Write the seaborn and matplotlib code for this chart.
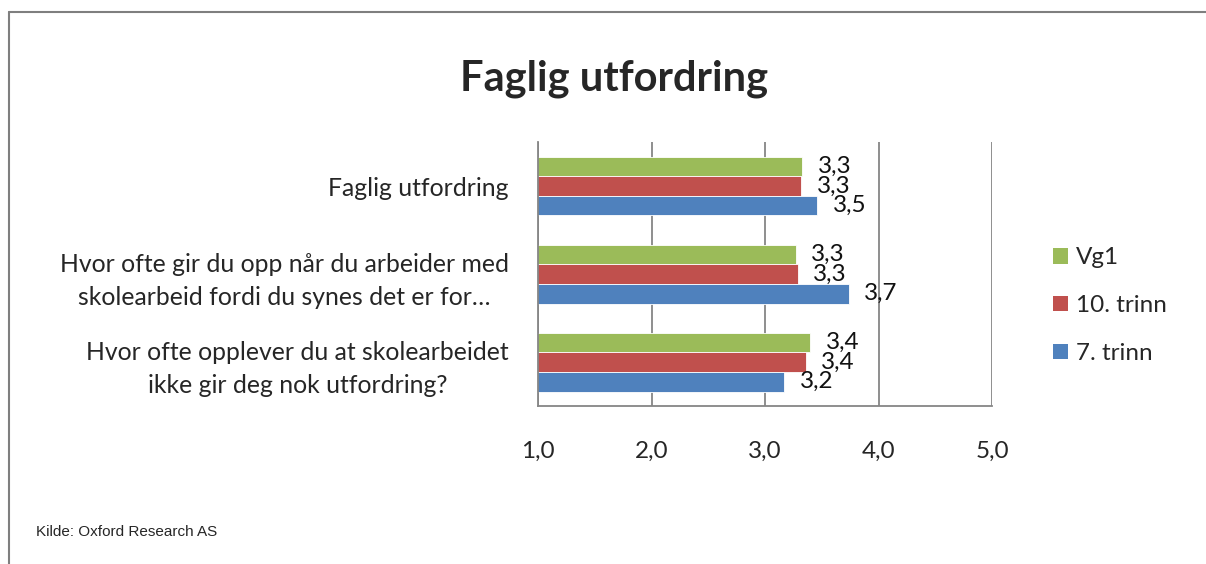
"""
Faglig utfordring - horizontal grouped bar chart.
"""

import pandas as pd
import matplotlib.pyplot as plt
from matplotlib.lines import Line2D
from matplotlib.patches import Patch
import seaborn as sns

# Data
categories = [
    "Faglig utfordring",
    "Hvor ofte gir du opp når du arbeider med\nskolearbeid fordi du synes det er for…",
    "Hvor ofte opplever du at skolearbeidet\nikke gir deg nok utfordring?",
]
groups = ["Vg1", "10. trinn", "7. trinn"]
vg1 = [3.33, 3.27, 3.40]
trinn10 = [3.32, 3.29, 3.36]
trinn7 = [3.46, 3.74, 3.17]
x_ticks = [1.0, 2.0, 3.0, 4.0, 5.0]

colors = {"Vg1": "#9BBB59", "10. trinn": "#C0504D", "7. trinn": "#4F81BD"}

df = pd.DataFrame({
    "Spørsmål": categories * 3,
    "Trinn": [g for g in groups for _ in categories],
    "Snitt": vg1 + trinn10 + trinn7,
})

sns.set_theme(style="white")
plt.rcParams["font.family"] = ["Lato", "DejaVu Sans"]

fig = plt.figure(figsize=(12.06, 5.64), dpi=100)
ax = fig.add_axes([0.4461, 0.2801, 0.3765, 0.4681])

sns.barplot(
    data=df, y="Spørsmål", x="Snitt", hue="Trinn",
    order=categories, hue_order=groups, palette=colors,
    orient="h", width=0.67, saturation=1, edgecolor="white",
    linewidth=0.6, legend=False, ax=ax,
)

# data labels with comma decimals
for container in ax.containers:
    labels = [f"{v:.1f}".replace(".", ",") for v in container.datavalues]
    ax.bar_label(container, labels=labels, padding=11, fontsize=17.5,
                 color="#111111")

ax.set_xlim(1.0, 5.0)
ax.set_ylim(2.5, -0.5)
ax.set_xticks(x_ticks)
ax.set_xticklabels([f"{t:.1f}".replace(".", ",") for t in x_ticks])
ax.xaxis.grid(True, color="#868686", linewidth=1.3)
ax.set_axisbelow(True)
ax.set_xlabel("")
ax.set_ylabel("")
ax.tick_params(axis="x", labelsize=17.5, pad=25, length=0)
ax.tick_params(axis="y", labelsize=17.8, pad=21, length=0)
for lbl in ax.get_yticklabels():
    lbl.set_multialignment("center")
    lbl.set_linespacing(1.55)
for side in ["top", "right"]:
    ax.spines[side].set_visible(False)
for side in ["left", "bottom"]:
    ax.spines[side].set_color("#868686")
    ax.spines[side].set_linewidth(1.3)

handles = [Patch(facecolor=colors[g], edgecolor="none") for g in groups]
fig.legend(
    handles, groups, loc="center left", bbox_to_anchor=(0.855, 0.458),
    frameon=False, fontsize=17.5, handlelength=0.6, handleheight=0.6,
    handletextpad=0.35, labelspacing=1.1,
)

fig.text(0.509, 0.860, "Faglig utfordring", ha="center", va="center",
         fontsize=30, fontweight="bold")
fig.text(0.030, 0.057, "Kilde: Oxford Research AS", ha="left",
         va="center", fontsize=11, family="Liberation Sans")

# chart frame (top and left edges visible)
fig.add_artist(Line2D([0.0075, 1.0], [0.978, 0.978], color="#7f7f7f",
                      linewidth=1.5))
fig.add_artist(Line2D([0.0075, 0.0075], [0.0, 0.978], color="#7f7f7f",
                      linewidth=1.5))

fig.savefig("out.png", dpi=100)
